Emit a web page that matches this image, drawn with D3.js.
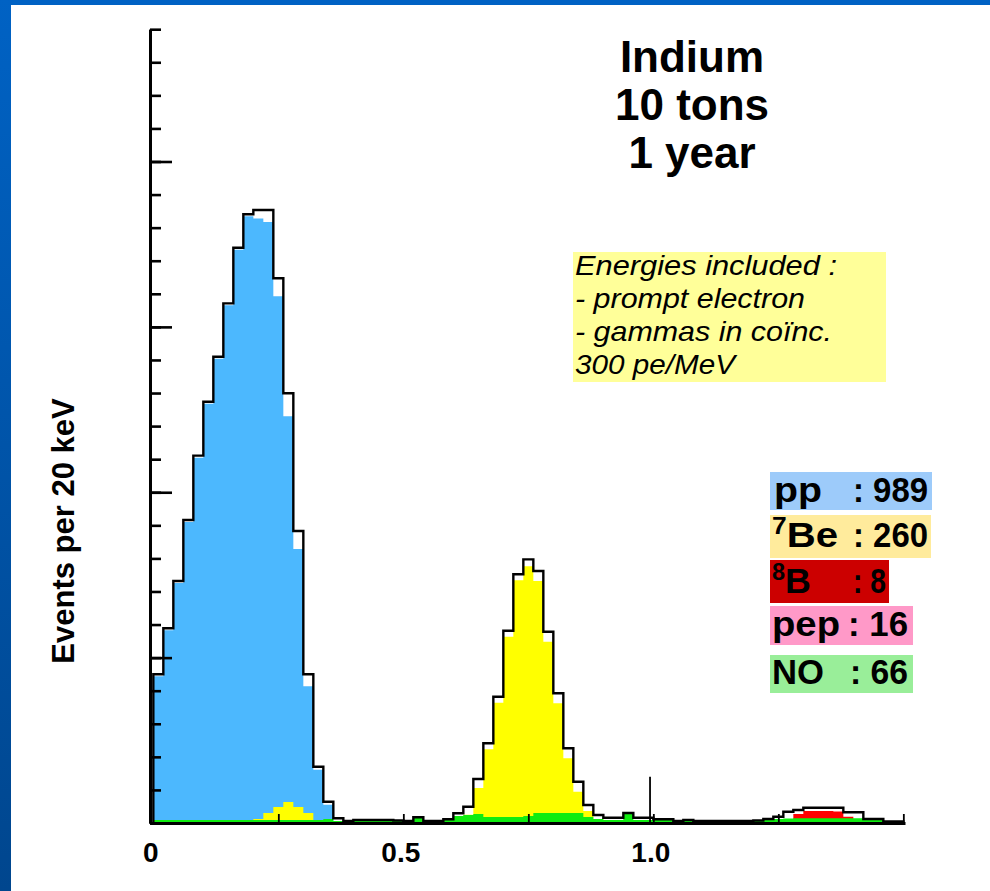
<!DOCTYPE html>
<html>
<head>
<meta charset="utf-8">
<script src="https://cdn.jsdelivr.net/npm/d3@7"></script>
<style>
  html, body { margin: 0; padding: 0; background: #fff; }
  svg { display: block; }
  text { font-family: "Liberation Sans", Arial, Helvetica, sans-serif; }
</style>
</head>
<body>
<svg id="chart" width="990" height="891"></svg>
<script>
// Energy bins: 20 keV wide, starting at 0 MeV
const binWidth = 0.02;

// Sum of all sources, events per 20 keV bin
const allSources = [
  22.48, 29.43, 36.58, 45.80, 55.53, 63.69, 70.49, 78.56, 86.97, 92.02,
  92.67, 92.67, 82.34, 64.96, 44.14, 22.48, 8.51, 3.22, 0.71, 0.30,
  0.45, 0.45, 0.45, 0.45, 0.38, 0.30, 0.86, 0.30, 0.30, 0.56,
  1.47, 2.46, 6.65, 12.05, 19.09, 29.07, 37.60, 39.86, 38.10, 28.92,
  19.61, 11.29, 6.24, 2.72, 1.21, 0.80, 0.80, 1.51, 0.80, 0.80,
  0.56, 0.56, 0.30, 0.45, 0.30, 0.30, 0.30, 0.30, 0.30, 0.30,
  0.38, 0.60, 0.95, 1.71, 1.97, 2.31, 2.31, 2.31, 2.31, 1.62,
  1.62, 0.60, 0.60, 0.23, 0.23
];

// pp neutrinos
const ppCounts = [
  22.18, 29.13, 36.28, 45.50, 55.22, 63.39, 70.19, 78.26, 86.67, 91.72,
  91.40, 90.85, 79.62, 61.48, 41.42, 20.67, 8.06, 2.77, 0.26, 0,
  0, 0, 0, 0, 0, 0, 0, 0, 0, 0,
  0, 0, 0, 0, 0, 0, 0, 0, 0, 0,
  0, 0, 0, 0, 0, 0, 0, 0, 0, 0,
  0, 0, 0, 0, 0, 0, 0, 0, 0, 0,
  0, 0, 0, 0, 0, 0, 0, 0, 0, 0,
  0, 0, 0, 0, 0
];

// 7Be neutrinos
const be7Counts = [
  0, 0, 0, 0, 0, 0, 0, 0, 0, 0,
  0.60, 1.51, 2.42, 3.17, 2.42, 1.51, 0, 0, 0, 0,
  0, 0, 0, 0, 0, 0, 0, 0, 0, 0.11,
  0.41, 1.25, 5.29, 11.14, 18.19, 28.16, 36.69, 38.81, 36.58, 27.41,
  18.10, 9.78, 4.73, 1.81, 0.60, 0.35, 0.35, 0.11, 0.35, 0.35,
  0, 0, 0, 0, 0, 0, 0, 0, 0, 0,
  0, 0, 0, 0, 0, 0, 0, 0, 0, 0,
  0, 0, 0, 0, 0
];

// 8B neutrinos
const b8Counts = [
  0, 0, 0, 0, 0, 0, 0, 0, 0, 0,
  0, 0, 0, 0, 0, 0, 0, 0, 0, 0,
  0, 0, 0, 0, 0, 0, 0, 0, 0, 0,
  0, 0, 0, 0, 0, 0, 0, 0, 0, 0,
  0, 0, 0, 0, 0, 0, 0, 0, 0, 0,
  0, 0, 0, 0, 0, 0, 0, 0, 0, 0,
  0, 0, 0, 0, 1.36, 1.81, 1.81, 1.81, 1.74, 0.95,
  0, 0, 0, 0, 0
];

// CNO neutrinos
const noCounts = [
  0.45, 0.45, 0.45, 0.45, 0.45, 0.45, 0.45, 0.45, 0.45, 0.45,
  0.45, 0.45, 0.45, 0.45, 0.45, 0.45, 0.45, 0.60, 0.30, 0.23,
  0.45, 0.45, 0.45, 0.45, 0.45, 0.30, 0.76, 0.30, 0.30, 0.45,
  1.06, 1.21, 1.36, 0.91, 0.91, 0.91, 0.91, 1.06, 1.51, 1.51,
  1.51, 1.51, 1.51, 0.91, 0.60, 0.45, 0.45, 1.36, 0.45, 0.45,
  0.45, 0.53, 0.30, 0.45, 0.30, 0.30, 0.30, 0.30, 0.30, 0.30,
  0.30, 0.45, 0.60, 0.68, 0.71, 0.71, 0.71, 0.71, 0.71, 0.71,
  0.71, 0.53, 0.53, 0.30, 0.15
];

// narrow line near 1 MeV in the summed spectrum
const spikeEnergy = [0.9934];
const spikeCount = [7.0];

// axis ticks
const yTickValues = d3.range(0, 121, 5);
const yMajorValues = d3.range(0, 121, 25);
const xTickValues = [0.25, 0.5, 0.75, 1.0, 1.25, 1.5];
const xLabelValues = [0, 0.5, 1.0];
const xLabelTexts = ["0", "0.5", "1.0"];

// legend
const legendSup = ["", "7", "8", "", ""];
const legendName = ["pp", "Be", "B", "pep", "NO"];
const legendTotal = [989, 260, 8, 16, 66];

const titleLines = ["Indium", "10 tons", "1 year"];
const noteLines = ["Energies included :", "- prompt electron", "- gammas in coïnc.", "300 pe/MeV"];

const W = 990, H = 891;
const svg = d3.select("#chart");

// page frame
const defs = svg.append("defs");
const grad = defs.append("linearGradient").attr("id", "sideBand")
  .attr("x1", 0).attr("y1", 0).attr("x2", 0).attr("y2", 1);
grad.append("stop").attr("offset", 0).attr("stop-color", "#0062c4");
grad.append("stop").attr("offset", 1).attr("stop-color", "#00468e");
svg.append("rect").attr("x", 0).attr("y", 0).attr("width", W).attr("height", 5).attr("fill", "#0062c4");
svg.append("rect").attr("x", 0).attr("y", 0).attr("width", 11).attr("height", H).attr("fill", "url(#sideBand)");

// scales
const x = d3.scaleLinear().domain([-1 / 150, 1.5033333]).range([150, 905]);
const y = d3.scaleLinear().domain([0, 120]).range([823, 29.2]);

function stepPoints(counts) {
  const pts = counts.map((c, i) => [i * binWidth, c]);
  pts.push([counts.length * binWidth, counts[counts.length - 1]]);
  return pts;
}

const area = d3.area()
  .x(d => x(d[0]))
  .y0(y(0))
  .y1(d => y(d[1]))
  .curve(d3.curveStepAfter);

const plot = svg.append("g");
const series = [
  { counts: ppCounts, color: "#4cb8fe" },
  { counts: be7Counts, color: "#ffff00" },
  { counts: b8Counts, color: "#ff0000" },
  { counts: noCounts, color: "#10ec10" }
];
plot.selectAll("path.fill").data(series).join("path")
  .attr("class", "fill")
  .attr("d", d => area(stepPoints(d.counts)))
  .attr("fill", d => d.color);

// outline of the summed spectrum
const outlinePts = [[0, 0], ...stepPoints(allSources), [allSources.length * binWidth, 0]];
const line = d3.line().x(d => x(d[0])).y(d => y(d[1])).curve(d3.curveStepAfter);
plot.append("path")
  .attr("d", line(outlinePts))
  .attr("fill", "none")
  .attr("stroke", "#000")
  .attr("stroke-width", 2.4);

plot.selectAll("line.spike").data(spikeEnergy).join("line")
  .attr("class", "spike")
  .attr("x1", d => x(d)).attr("x2", d => x(d))
  .attr("y1", y(0)).attr("y2", (d, i) => y(spikeCount[i]))
  .attr("stroke", "#000").attr("stroke-width", 1.8);

// y axis: minor and major ticks pointing into the plot
const yMinor = svg.append("g").attr("transform", "translate(150,0)")
  .call(d3.axisRight(y).tickValues(yTickValues).tickSize(11).tickSizeOuter(0).tickFormat(""));
const yMajor = svg.append("g").attr("transform", "translate(150,0)")
  .call(d3.axisRight(y).tickValues(yMajorValues).tickSize(22).tickSizeOuter(0).tickFormat(""));
[yMinor, yMajor].forEach(g => {
  g.selectAll("path.domain").attr("stroke", "#000").attr("stroke-width", 3);
  g.selectAll(".tick line").attr("stroke", "#000").attr("stroke-width", 2.6);
});

// x axis
const xAxisG = svg.append("g").attr("transform", "translate(0,823)")
  .call(d3.axisTop(x).tickValues(xTickValues).tickSize(9).tickSizeOuter(0).tickFormat(""));
xAxisG.selectAll("path.domain").attr("stroke", "#000").attr("stroke-width", 3);
xAxisG.selectAll(".tick line").attr("stroke", "#000").attr("stroke-width", 1.8);

const xLabelG = svg.append("g").attr("transform", "translate(-3,823)")
  .call(d3.axisBottom(x).tickValues(xLabelValues).tickSize(0).tickPadding(19)
    .tickFormat((d, i) => xLabelTexts[i]));
xLabelG.select("path.domain").remove();
xLabelG.selectAll("text")
  .attr("fill", "#000")
  .style("font-family", '"Liberation Sans", Arial, sans-serif')
  .style("font-size", "28px")
  .style("font-weight", "bold");

// y axis title
svg.append("text")
  .attr("transform", "translate(74,531) rotate(-90)")
  .attr("text-anchor", "middle")
  .style("font-size", "31px")
  .style("font-weight", "bold")
  .text("Events per 20 keV");

// title block
svg.append("g").selectAll("text").data(titleLines).join("text")
  .attr("x", 692)
  .attr("y", (d, i) => 72 + i * 48)
  .attr("text-anchor", "middle")
  .style("font-size", "44px")
  .style("font-weight", "bold")
  .text(d => d);

// note box
svg.append("rect").attr("x", 573).attr("y", 252).attr("width", 313).attr("height", 130).attr("fill", "#ffff99");
const noteWidths = [262, 230, 257, 160];
svg.append("g").selectAll("text").data(noteLines).join("text")
  .attr("x", 575)
  .attr("y", (d, i) => 275 + i * 33)
  .attr("textLength", (d, i) => noteWidths[i])
  .attr("lengthAdjust", "spacingAndGlyphs")
  .style("font-size", "28px")
  .style("font-style", "italic")
  .text(d => d);

// legend boxes
const legendBox = [
  { y: 472, h: 38, w: 162, fill: "#9dcbfa", base: 502, nameEnd: 822, valStart: 853, valEnd: 928 },
  { y: 515, h: 43, w: 161, fill: "#ffeb9c", base: 547, nameEnd: 838, valStart: 853, valEnd: 928 },
  { y: 560, h: 43, w: 119, fill: "#cc0000", base: 593, nameEnd: 811, valStart: 853, valEnd: 886 },
  { y: 606, h: 39, w: 143, fill: "#ff99c8", base: 636, nameEnd: 840, valStart: 848, valEnd: 908 },
  { y: 655, h: 38, w: 143, fill: "#99ee99", base: 684, nameEnd: 824, valStart: 850, valEnd: 908 }
];
const leg = svg.append("g");
const entry = leg.selectAll("g").data(legendName).join("g");
entry.append("rect")
  .attr("x", 770)
  .attr("y", (d, i) => legendBox[i].y)
  .attr("width", (d, i) => legendBox[i].w)
  .attr("height", (d, i) => legendBox[i].h)
  .attr("fill", (d, i) => legendBox[i].fill);
entry.each(function (d, i) {
  const g = d3.select(this);
  const b = legendBox[i];
  const x0 = i === 0 ? 774 : 772;
  const t = g.append("text")
    .attr("x", x0)
    .attr("y", b.base)
    .attr("textLength", b.nameEnd - x0)
    .attr("lengthAdjust", "spacingAndGlyphs")
    .style("font-size", "35px")
    .style("font-weight", "bold");
  if (legendSup[i]) {
    t.append("tspan").attr("dy", -13).style("font-size", "23px").text(legendSup[i]);
    t.append("tspan").attr("dy", 13).text(d);
  } else {
    t.text(d);
  }
  g.append("text")
    .attr("x", b.valStart)
    .attr("y", b.base)
    .attr("textLength", b.valEnd - b.valStart)
    .attr("lengthAdjust", "spacingAndGlyphs")
    .style("font-size", "35px")
    .style("font-weight", "bold")
    .text(": " + legendTotal[i]);
});
</script>
</body>
</html>
